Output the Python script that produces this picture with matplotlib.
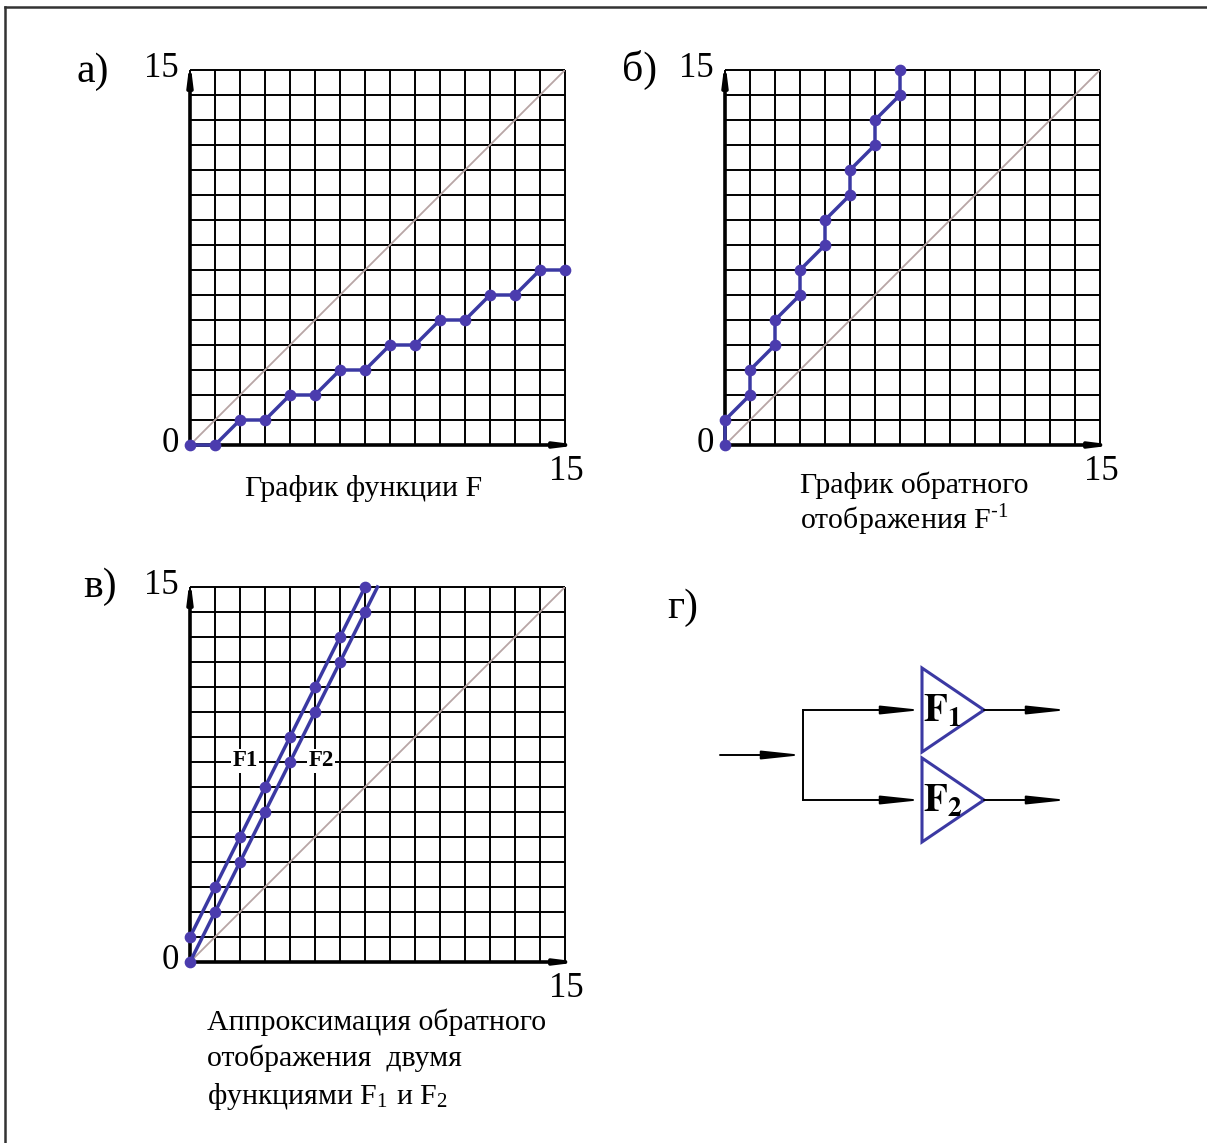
import matplotlib.pyplot as plt
import numpy as np
from matplotlib.patches import Polygon

plt.rcParams['font.family'] = ['Liberation Serif', 'DejaVu Serif']
plt.rcParams['mathtext.fontset'] = 'stix'

W, H = 1207, 1143
fig = plt.figure(figsize=(W / 100, H / 100), dpi=100)

# F: step function on 0..15
f_x = [0, 1, 2, 3, 4, 5, 6, 7, 8, 9, 10, 11, 12, 13, 14, 15]
f_y = [0, 0, 1, 1, 2, 2, 3, 3, 4, 4, 5, 5, 6, 6, 7, 7]

# inverse mapping F^-1
inv_x = [0, 0, 1, 1, 2, 2, 3, 3, 4, 4, 5, 5, 6, 6, 7, 7]
inv_y = [0, 1, 2, 3, 4, 5, 6, 7, 8, 9, 10, 11, 12, 13, 14, 15]

# two linear functions approximating the inverse
f1_x = [0, 1, 2, 3, 4, 5, 6, 7]
f1_y = [1, 3, 5, 7, 9, 11, 13, 15]
f2_x = [0, 1, 2, 3, 4, 5, 6, 7]
f2_y = [0, 2, 4, 6, 8, 10, 12, 14]
f2_end = (7.5, 15)  # F2 line runs on to the top edge

BLUE = '#3b39a3'
MARK = '#4b3cae'
DIAG = '#b8a6a6'


def px_axes(x0, y0, x1, y1):
    return fig.add_axes([x0 / W, 1 - y1 / H, (x1 - x0) / W, (y1 - y0) / H])


def ftext(x, y, s, **kw):
    fig.text(x / W, 1 - y / H, s, **kw)


def grid_panel(ax):
    ax.set_xlim(0, 15)
    ax.set_ylim(0, 15)
    ax.axis('off')
    ticks = np.arange(16)
    ax.vlines(ticks, 0, 15, color='k', lw=1.4, clip_on=False, zorder=1)
    ax.hlines(ticks, 0, 15, color='k', lw=1.4, clip_on=False, zorder=1)
    ax.plot([0, 15], [0, 15], color=DIAG, lw=1.3, zorder=2)
    ap = dict(arrowstyle='-|>,head_length=0.8,head_width=0.1', lw=2.6,
              color='k', shrinkA=0, shrinkB=0, mutation_scale=14)
    ax.annotate('', xy=(15.6, 0), xytext=(0, 0), arrowprops=ap,
                annotation_clip=False, zorder=3)
    ax.annotate('', xy=(0, 15.4), xytext=(0, 0), arrowprops=ap,
                annotation_clip=False, zorder=3)
    ax.text(-0.45, 15.05, '15', ha='right', va='center', fontsize=25)
    ax.text(-0.45, 0.05, '0', ha='right', va='center', fontsize=25)
    ax.text(15.05, -0.4, '15', ha='center', va='top', fontsize=25)


line_kw = dict(color=BLUE, lw=2.5, zorder=4, clip_on=False)
mark_kw = dict(color=MARK, s=55, zorder=5, clip_on=False)

# а) graph of F
ax_a = px_axes(190, 70, 565, 445)
grid_panel(ax_a)
ax_a.plot(f_x, f_y, **line_kw)
ax_a.scatter(f_x, f_y, **mark_kw)

# б) inverse mapping
ax_b = px_axes(725, 70, 1100, 445)
grid_panel(ax_b)
ax_b.plot(inv_x, inv_y, **line_kw)
ax_b.scatter(inv_x, inv_y, **mark_kw)

# в) approximation with F1 and F2
ax_c = px_axes(190, 587, 565, 962)
grid_panel(ax_c)
ax_c.plot(f1_x, f1_y, **line_kw)
ax_c.plot(f2_x + [f2_end[0]], f2_y + [f2_end[1]], **line_kw)
ax_c.scatter(f1_x, f1_y, **mark_kw)
ax_c.scatter(f2_x, f2_y, **mark_kw)
lab_kw = dict(ha='center', va='center', fontsize=16.5, fontweight='bold', zorder=6,
              bbox=dict(facecolor='white', edgecolor='none', pad=1.0))
ax_c.text(2.2, 8.05, 'F1', **lab_kw)
ax_c.text(5.25, 8.05, 'F2', **lab_kw)

# г) block diagram, axes in pixel units
ax_d = px_axes(640, 580, 1100, 860)
ax_d.set_xlim(640, 1100)
ax_d.set_ylim(860, 580)
ax_d.axis('off')

split_x = 803
branch_y = [710, 800]
tri_left, tri_apex, tri_half = 922, 984, 42
arr = dict(arrowstyle='-|>,head_length=1.7,head_width=0.18', lw=1.4,
           color='k', shrinkA=0, shrinkB=0, mutation_scale=14)

ax_d.annotate('', xy=(split_x, 755), xytext=(720, 755), arrowprops=arr)
ax_d.plot([split_x, split_x], branch_y, color='k', lw=1.4)
for i, by in enumerate(branch_y):
    ax_d.annotate('', xy=(tri_left, by), xytext=(split_x, by), arrowprops=arr)
    ax_d.add_patch(Polygon([(tri_left, by - tri_half), (tri_left, by + tri_half),
                            (tri_apex, by)], closed=True, fill=False,
                           edgecolor=BLUE, lw=2.2))
    ax_d.annotate('', xy=(1068, by), xytext=(tri_apex, by), arrowprops=arr)
    ax_d.text(tri_left + 1, by + 2, r'$\mathbf{F}_{\mathbf{%d}}$' % (i + 1),
              ha='left', va='center', fontsize=28)

# panel letters
ftext(93, 72, 'а)', ha='center', va='center', fontsize=30)
ftext(640, 70, 'б)', ha='center', va='center', fontsize=30)
ftext(100, 587, 'в)', ha='center', va='center', fontsize=30)
ftext(683, 608, 'г)', ha='center', va='center', fontsize=30)

# captions
cap = dict(ha='left', va='center', fontsize=21.5)
ftext(245, 488, 'График функции F', **cap)
ftext(800, 485, 'График обратного', **cap)
ftext(800, 520, r'отображения F$^{\mathregular{\text{-}1}}$', **cap)
ftext(207, 1022, 'Аппроксимация обратного', **cap)
ftext(207, 1058, 'отображения  двумя', **cap)
ftext(207, 1097, r'функциями F$_{\mathregular{1}}$ и F$_{\mathregular{2}}$', **cap)

# outer frame (top and left edges)
fig.add_artist(plt.Line2D([5 / W, 5 / W], [0, 1 - 7 / H], color='#333333', lw=1.8))
fig.add_artist(plt.Line2D([5 / W, 1], [1 - 7 / H, 1 - 7 / H], color='#333333', lw=1.8))

fig.savefig('out.png', dpi=100)
